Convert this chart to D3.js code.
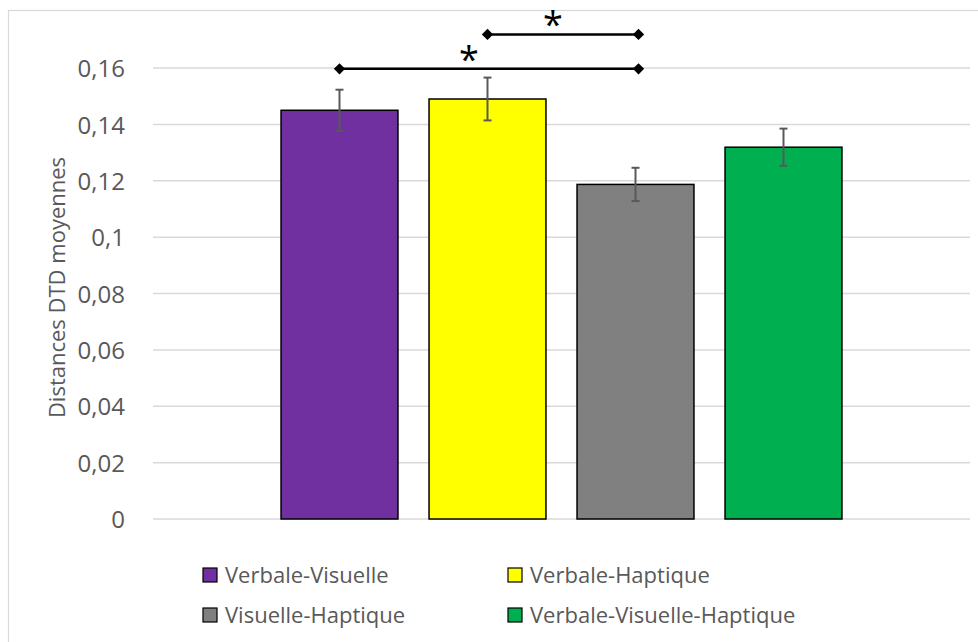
<!DOCTYPE html>
<html>
<head>
<meta charset="utf-8">
<script src="https://cdn.jsdelivr.net/npm/d3@7"></script>
<style>
  html, body { margin: 0; padding: 0; background: #ffffff; }
  svg { display: block; font-family: "Open Sans", "DejaVu Sans", sans-serif; }
</style>
</head>
<body>
<svg id="chart" width="978" height="642"></svg>
<script>
// ---- data ----
const series = ["Verbale-Visuelle", "Verbale-Haptique", "Visuelle-Haptique", "Verbale-Visuelle-Haptique"];
const means = [0.145, 0.149, 0.1187, 0.1319];
const errors = [0.0073, 0.0076, 0.0059, 0.0066];
const colors = ["#7030A0", "#FFFF00", "#808080", "#00B050"];
const yTicks = [0, 0.02, 0.04, 0.06, 0.08, 0.1, 0.12, 0.14, 0.16];
const sigFrom = [0, 1];
const sigTo = [2, 2];
const sigLevel = [0.1597, 0.1719];
const sigLabel = ["*", "*"];
const yTitle = "Distances DTD moyennes";

// ---- layout ----
const svg = d3.select("#chart");
const W = 978, H = 642;
const plot = { left: 153, right: 970, top: 68, bottom: 519 };

svg.append("rect")
  .attr("x", 8.5).attr("y", 10.5)
  .attr("width", W + 20).attr("height", H + 20)
  .attr("fill", "none").attr("stroke", "#d9d9d9").attr("stroke-width", 1.2);

const y = d3.scaleLinear().domain([0, 0.16]).range([plot.bottom, plot.top]);

const center = (plot.left + plot.right) / 2;
const groupW = 592;
const x = d3.scaleBand().domain(series)
  .range([center - groupW / 2, center + groupW / 2])
  .paddingInner(0.21).paddingOuter(0.105);

// gridlines
svg.append("g").selectAll("line").data(yTicks).join("line")
  .attr("x1", plot.left).attr("x2", plot.right)
  .attr("y1", d => y(d)).attr("y2", d => y(d))
  .attr("stroke", "#d9d9d9").attr("stroke-width", 1.5);

// y axis labels via d3 axis
const fmt = d => String(+d.toFixed(2)).replace(".", ",");
const yAxis = svg.append("g")
  .attr("transform", `translate(${plot.left - 28},0)`)
  .call(d3.axisLeft(y).tickValues(yTicks).tickFormat(fmt).tickSize(0).tickPadding(0));
yAxis.select(".domain").remove();
yAxis.selectAll("text")
  .attr("fill", "#595959")
  .style("font-size", "24px")
  .style("font-family", "'Open Sans', sans-serif")
  .attr("dy", "0.36em");

// y title
svg.append("text")
  .attr("transform", `translate(65,${(plot.top + plot.bottom) / 2 - 6}) rotate(-90)`)
  .attr("text-anchor", "middle")
  .attr("fill", "#595959")
  .style("font-size", "22px")
  .text(yTitle);

// bars
svg.append("g").selectAll("rect").data(series).join("rect")
  .attr("x", d => x(d))
  .attr("y", (d, i) => y(means[i]))
  .attr("width", x.bandwidth())
  .attr("height", (d, i) => y(0) - y(means[i]))
  .attr("fill", (d, i) => colors[i])
  .attr("stroke", "#000").attr("stroke-width", 1.5);

// error bars
const eb = svg.append("g").attr("stroke", "#595959").attr("stroke-width", 2);
series.forEach((s, i) => {
  const cx = x(s) + x.bandwidth() / 2;
  const y1 = y(means[i] + errors[i]), y2 = y(means[i] - errors[i]);
  eb.append("line").attr("x1", cx).attr("x2", cx).attr("y1", y1).attr("y2", y2);
  eb.append("line").attr("x1", cx - 4).attr("x2", cx + 4).attr("y1", y1).attr("y2", y1);
  eb.append("line").attr("x1", cx - 4).attr("x2", cx + 4).attr("y1", y2).attr("y2", y2);
});

// significance brackets
const sig = svg.append("g");
sigFrom.forEach((a, k) => {
  const xa = x(series[a]) + x.bandwidth() / 2;
  const xb = x(series[sigTo[k]]) + x.bandwidth() / 2 + 3;
  const yy = y(sigLevel[k]);
  sig.append("line").attr("x1", xa).attr("x2", xb).attr("y1", yy).attr("y2", yy)
    .attr("stroke", "#000").attr("stroke-width", 2.5);
  [xa, xb].forEach(px => {
    sig.append("path").attr("d", d3.symbol().type(d3.symbolSquare).size(64)())
      .attr("transform", `translate(${px},${yy}) rotate(45)`)
      .attr("fill", "#000");
  });
  const mid = (xa + xb) / 2 - (k === 0 ? 20 : 10);
  sig.append("text")
    .attr("x", mid).attr("y", yy + 3)
    .attr("text-anchor", "middle")
    .attr("fill", "#000")
    .style("font-size", "36px")
    .text(sigLabel[k]);
});

// legend
const legX = [203, 508];
const legY = [575, 615];
const leg = svg.append("g");
series.forEach((s, i) => {
  const cx = legX[i % 2], cy = legY[Math.floor(i / 2)];
  leg.append("rect")
    .attr("x", cx).attr("y", cy - 7).attr("width", 14).attr("height", 14)
    .attr("fill", colors[i]).attr("stroke", "#000").attr("stroke-width", 1.2);
  leg.append("text")
    .attr("x", cx + 22).attr("y", cy).attr("dy", "0.35em")
    .attr("fill", "#595959")
    .style("font-size", "22px")
    .text(s);
});
</script>
</body>
</html>
